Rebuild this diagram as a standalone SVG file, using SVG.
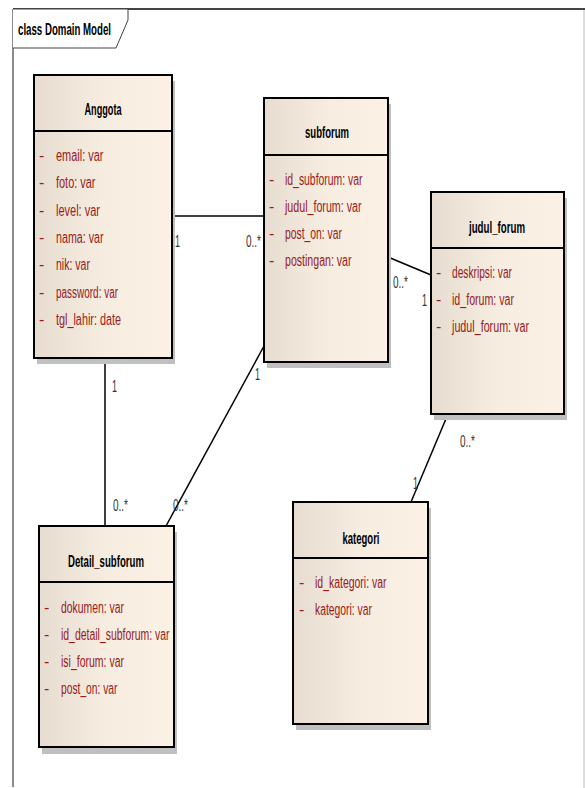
<svg xmlns="http://www.w3.org/2000/svg" width="585" height="788" viewBox="0 0 585 788">
<defs>
<linearGradient id="g" x1="0" y1="0" x2="1" y2="0">
<stop offset="0" stop-color="#e6ddd0"/>
<stop offset="0.5" stop-color="#f6ece0"/>
<stop offset="1" stop-color="#fbf1e4"/>
</linearGradient>
<style>
.sh{fill:#c0c0c0}
.bx{fill:url(#g);stroke:#000;stroke-width:2}
.sep{stroke:#000;stroke-width:2}
text{font-family:"Liberation Sans",Arial,sans-serif;font-size:16px}
.t{font-weight:bold;fill:#000;text-anchor:middle}
.a{fill:#9a1c1c}
.m{fill:#333}
.c{stroke:#000;stroke-width:1.5;fill:none}
</style>
</defs>
<rect width="585" height="788" fill="#fff"/>
<g id="frame">
<line x1="13" y1="9" x2="585" y2="9" stroke="#444" stroke-width="2"/>
<line x1="13" y1="9" x2="13" y2="787" stroke="#666" stroke-width="1.5"/>
<line x1="584" y1="10" x2="584" y2="788" stroke="#d0d0d0" stroke-width="1.5"/>
<path d="M13 9 H128 V20 L116 48 H13" fill="#fff" stroke="#444" stroke-width="1"/>
<text x="18" y="35" font-weight="bold" textLength="93" lengthAdjust="spacingAndGlyphs">class Domain Model</text>
</g>
<g id="connectors">
<line class="c" x1="172" y1="216" x2="264" y2="216"/>
<line class="c" x1="388" y1="257" x2="431" y2="275"/>
<line class="c" x1="448" y1="414" x2="411" y2="502"/>
<line class="c" x1="105" y1="358" x2="105" y2="526"/>
<line class="c" x1="264" y1="346" x2="166" y2="526"/>
<text class="m" x="175" y="247" textLength="5" lengthAdjust="spacingAndGlyphs">1</text>
<text class="m" x="246" y="247" textLength="15" lengthAdjust="spacingAndGlyphs">0..*</text>
<text class="m" x="393" y="288" textLength="15" lengthAdjust="spacingAndGlyphs">0..*</text>
<text class="m" x="422" y="306" textLength="5" lengthAdjust="spacingAndGlyphs">1</text>
<text class="m" x="460" y="447" textLength="15" lengthAdjust="spacingAndGlyphs">0..*</text>
<text class="m" x="413" y="489" textLength="5" lengthAdjust="spacingAndGlyphs">1</text>
<text class="m" x="112" y="392" textLength="5" lengthAdjust="spacingAndGlyphs">1</text>
<text class="m" x="113" y="511" textLength="15" lengthAdjust="spacingAndGlyphs">0..*</text>
<text class="m" x="255" y="380" textLength="5" lengthAdjust="spacingAndGlyphs">1</text>
<text class="m" x="173" y="511" textLength="15" lengthAdjust="spacingAndGlyphs">0..*</text>
</g>
<g id="Anggota">
<rect class="sh" x="37" y="81" width="138" height="283"/>
<rect class="bx" x="34" y="75" width="138" height="283"/>
<line class="sep" x1="34" y1="131" x2="172" y2="131"/>
<text class="t" x="103" y="115" textLength="37" lengthAdjust="spacingAndGlyphs">Anggota</text>
<text class="a" x="39" y="161">-</text><text class="a" x="56" y="161" textLength="47.5" lengthAdjust="spacingAndGlyphs">email: var</text>
<text class="a" x="39" y="188">-</text><text class="a" x="56" y="188" textLength="39.5" lengthAdjust="spacingAndGlyphs">foto: var</text>
<text class="a" x="39" y="216">-</text><text class="a" x="56" y="216" textLength="44" lengthAdjust="spacingAndGlyphs">level: var</text>
<text class="a" x="39" y="243">-</text><text class="a" x="56" y="243" textLength="47.5" lengthAdjust="spacingAndGlyphs">nama: var</text>
<text class="a" x="39" y="270">-</text><text class="a" x="56" y="270" textLength="34" lengthAdjust="spacingAndGlyphs">nik: var</text>
<text class="a" x="39" y="298">-</text><text class="a" x="56" y="298" textLength="62" lengthAdjust="spacingAndGlyphs">password: var</text>
<text class="a" x="39" y="325">-</text><text class="a" x="56" y="325" textLength="65" lengthAdjust="spacingAndGlyphs">tgl_lahir: date</text>
</g>
<g id="subforum">
<rect class="sh" x="267" y="104" width="124" height="264"/>
<rect class="bx" x="264" y="98" width="124" height="264"/>
<line class="sep" x1="264" y1="155" x2="388" y2="155"/>
<text class="t" x="327" y="138" textLength="44" lengthAdjust="spacingAndGlyphs">subforum</text>
<text class="a" x="269" y="185">-</text><text class="a" x="285" y="185" textLength="77.5" lengthAdjust="spacingAndGlyphs">id_subforum: var</text>
<text class="a" x="269" y="212">-</text><text class="a" x="285" y="212" textLength="76.5" lengthAdjust="spacingAndGlyphs">judul_forum: var</text>
<text class="a" x="269" y="239">-</text><text class="a" x="285" y="239" textLength="57" lengthAdjust="spacingAndGlyphs">post_on: var</text>
<text class="a" x="269" y="266">-</text><text class="a" x="285" y="266" textLength="66.5" lengthAdjust="spacingAndGlyphs">postingan: var</text>
</g>
<g id="judul_forum">
<rect class="sh" x="434" y="198" width="133" height="222"/>
<rect class="bx" x="431" y="192" width="133" height="222"/>
<line class="sep" x1="431" y1="248" x2="564" y2="248"/>
<text class="t" x="497" y="233" textLength="56" lengthAdjust="spacingAndGlyphs">judul_forum</text>
<text class="a" x="436" y="278">-</text><text class="a" x="452" y="278" textLength="60" lengthAdjust="spacingAndGlyphs">deskripsi: var</text>
<text class="a" x="436" y="305">-</text><text class="a" x="452" y="305" textLength="62" lengthAdjust="spacingAndGlyphs">id_forum: var</text>
<text class="a" x="436" y="332">-</text><text class="a" x="452" y="332" textLength="77" lengthAdjust="spacingAndGlyphs">judul_forum: var</text>
</g>
<g id="kategori">
<rect class="sh" x="296" y="508" width="135" height="222"/>
<rect class="bx" x="293" y="502" width="135" height="222"/>
<line class="sep" x1="293" y1="558" x2="428" y2="558"/>
<text class="t" x="361" y="544" textLength="37" lengthAdjust="spacingAndGlyphs">kategori</text>
<text class="a" x="299" y="588">-</text><text class="a" x="315" y="588" textLength="71.5" lengthAdjust="spacingAndGlyphs">id_kategori: var</text>
<text class="a" x="299" y="615">-</text><text class="a" x="315" y="615" textLength="57" lengthAdjust="spacingAndGlyphs">kategori: var</text>
</g>
<g id="Detail_subforum">
<rect class="sh" x="42" y="532" width="135" height="222"/>
<rect class="bx" x="39" y="526" width="135" height="221"/>
<line class="sep" x1="39" y1="582" x2="174" y2="582"/>
<text class="t" x="106" y="567" textLength="76" lengthAdjust="spacingAndGlyphs">Detail_subforum</text>
<text class="a" x="44" y="613">-</text><text class="a" x="61" y="613" textLength="63" lengthAdjust="spacingAndGlyphs">dokumen: var</text>
<text class="a" x="44" y="640">-</text><text class="a" x="61" y="640" textLength="108.5" lengthAdjust="spacingAndGlyphs">id_detail_subforum: var</text>
<text class="a" x="44" y="667">-</text><text class="a" x="61" y="667" textLength="63" lengthAdjust="spacingAndGlyphs">isi_forum: var</text>
<text class="a" x="44" y="694">-</text><text class="a" x="61" y="694" textLength="56.5" lengthAdjust="spacingAndGlyphs">post_on: var</text>
</g>
</svg>
